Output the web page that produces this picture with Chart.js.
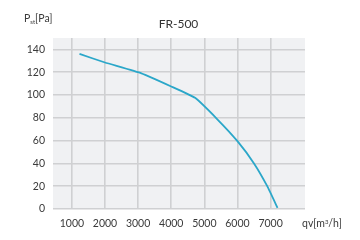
<!DOCTYPE html>
<html>
<head>
<meta charset="utf-8">
<script src="https://cdn.jsdelivr.net/npm/chart.js@4"></script>
<style>
  html,body{margin:0;padding:0;background:#fff;}
  #wrap{position:relative;width:360px;height:240px;font-family:Lato, "Open Sans", sans-serif;color:#3a3a3a;}
  canvas{position:absolute;left:0;top:0;}
  .lbl{position:absolute;white-space:nowrap;line-height:1;}
  #title{left:0;width:357px;text-align:center;top:18px;font-size:12px;color:#333;}
  #ytitle{left:24px;top:13px;font-size:10.5px;}
  #ytitle sub{font-size:6px;vertical-align:-2px;}
  #xtitle{left:302px;top:218px;font-size:10.5px;}
  #xtitle sup{font-size:6px;vertical-align:3px;}
</style>
</head>
<body>
<div id="wrap">
  <canvas id="c" width="360" height="240"></canvas>
  <div class="lbl" id="title">FR-500</div>
  <div class="lbl" id="ytitle">P<sub>st</sub>[Pa]</div>
  <div class="lbl" id="xtitle">qv[m<sup>3</sup>/h]</div>
</div>
<script>
const flowValues = [1230, 2000, 3100, 4000, 4720, 5400, 6000, 6500, 6900, 7210];
const pressureValues = [136, 128.5, 119, 107.5, 97.5, 78.5, 59.5, 40, 20, 1];
const xTickLabels = [1000, 2000, 3000, 4000, 5000, 6000, 7000];
const yTickLabels = [0, 20, 40, 60, 80, 100, 120, 140];

const points = flowValues.map((x, i) => ({x: x, y: pressureValues[i]}));

const bgPlugin = {
  id: 'plotBg',
  beforeDraw(chart) {
    const a = chart.chartArea, ctx = chart.ctx;
    ctx.save();
    ctx.fillStyle = '#f0f1f3';
    ctx.fillRect(a.left, a.top, a.right - a.left, a.bottom - a.top);
    ctx.restore();
  }
};

new Chart(document.getElementById('c'), {
  type: 'scatter',
  data: {
    datasets: [{
      data: points,
      showLine: true,
      borderColor: '#2ba7c9',
      borderWidth: 1.8,
      pointRadius: 0,
      tension: 0.12,
      fill: false
    }]
  },
  options: {
    responsive: false,
    animation: false,
    devicePixelRatio: 1,
    layout: {padding: {top: 38, right: 55, left: 0, bottom: 0}},
    plugins: {legend: {display: false}, tooltip: {enabled: false}, title: {display: false}},
    scales: {
      x: {
        type: 'linear',
        min: 430, max: 8040,
        afterBuildTicks(scale) { scale.ticks = xTickLabels.map(v => ({value: v})); },
        afterFit(scale) { scale.height = 31; },
        border: {display: false},
        grid: {color: '#cfd0d2', lineWidth: 1.6, drawTicks: false},
        ticks: {padding: 8, color: '#3a3a3a', font: {family: 'Lato', size: 10.5}, maxRotation: 0, autoSkip: false,
                callback: v => String(v)}
      },
      y: {
        min: 0, max: 150,
        afterBuildTicks(scale) { scale.ticks = yTickLabels.map(v => ({value: v})); },
        afterFit(scale) { scale.width = 53; },
        border: {display: false},
        grid: {color: '#cfd0d2', lineWidth: 1.6, drawTicks: false},
        ticks: {padding: 8, color: '#3a3a3a', font: {family: 'Lato', size: 10.5}, autoSkip: false,
                callback: v => String(v)}
      }
    }
  },
  plugins: [bgPlugin]
});
</script>
</body>
</html>
